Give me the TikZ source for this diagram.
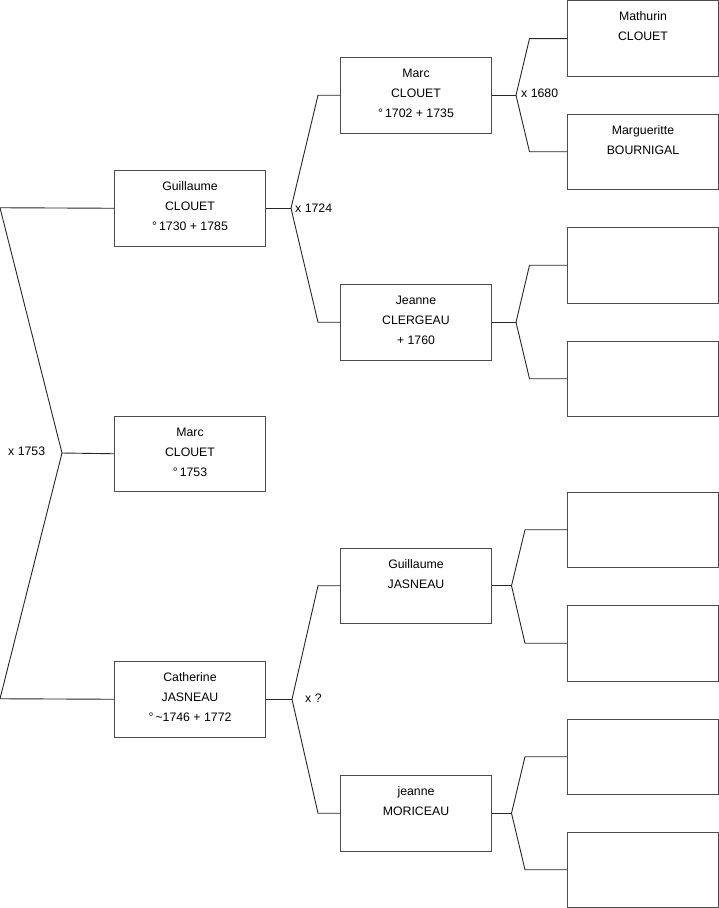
\documentclass[tikz,border=0pt]{standalone}
\usepackage{fontspec}
\setmainfont{Liberation Sans}
\usetikzlibrary{calc}
\tikzset{
  pbox/.style={draw=black!70, line width=1pt, minimum width=151pt, minimum height=75.5pt, inner sep=0pt, anchor=north west},
  ptext/.style={anchor=north, inner sep=0pt, align=center, font=\fontsize{12.3}{20}\selectfont},
  plabel/.style={anchor=west, inner sep=0pt, font=\fontsize{12.3}{20}\selectfont},
  conn/.style={draw=black!85, line width=0.9pt}
}
\newcommand{\st}{\rule{0pt}{10pt}}
\begin{document}
\begin{tikzpicture}[x=1pt,y=-1pt]
\useasboundingbox (0,0) rectangle (719,908);
% generation 1
\node[pbox] (g1) at (114,170) {};
\node[pbox] (m1) at (114,415.5) {};
\node[pbox] (c1) at (114,661) {};
% generation 2
\node[pbox] (g2a) at (340,57) {};
\node[pbox] (g2b) at (340,284) {};
\node[pbox] (g2c) at (340,547.5) {};
\node[pbox] (g2d) at (340,775) {};
% generation 3
\node[pbox] (g3a) at (567,0.3) {};
\node[pbox] (g3b) at (567,113.5) {};
\node[pbox] (g3c) at (567,227) {};
\node[pbox] (g3d) at (567,340.5) {};
\node[pbox] (g3e) at (567,491.5) {};
\node[pbox] (g3f) at (567,605) {};
\node[pbox] (g3g) at (567,718.5) {};
\node[pbox] (g3h) at (567,831.5) {};
% texts
\node[ptext] (t1) at ($(g1.north)+(0,10.5)$) {\st Guillaume\\CLOUET\\°\,1730 + 1785};
\node[ptext] (t2) at ($(m1.north)+(0,10.5)$) {\st Marc\\CLOUET\\°\,1753};
\node[ptext] (t3) at ($(c1.north)+(0,10.5)$) {\st Catherine\\JASNEAU\\°\,\textasciitilde1746 + 1772};
\node[ptext] (t4) at ($(g2a.north)+(0,10.5)$) {\st Marc\\CLOUET\\°\,1702 + 1735};
\node[ptext] (t5) at ($(g2b.north)+(0,10.5)$) {\st Jeanne\\CLERGEAU\\+ 1760};
\node[ptext] (t6) at ($(g2c.north)+(0,10.5)$) {\st Guillaume\\JASNEAU};
\node[ptext] (t7) at ($(g2d.north)+(0,10.5)$) {\st jeanne\\MORICEAU};
\node[ptext] (t8) at ($(g3a.north)+(0,10.2)$) {\st Mathurin\\CLOUET};
\node[ptext] (t9) at ($(g3b.north)+(0,10.5)$) {\st Margueritte\\BOURNIGAL};
% junction coordinates
\coordinate (L1) at (0,207.75);
\coordinate (L2) at (0,698.75);
\coordinate (J0) at (62,453);
\coordinate (J1) at ($(g1.east)+(25,0)$);
\coordinate (J2) at ($(c1.east)+(26,0)$);
\coordinate (J3) at ($(g2a.east)+(24,0)$);
\coordinate (J4) at ($(g2b.east)+(24,0)$);
\coordinate (J5) at ($(g2c.east)+(19.5,0)$);
\coordinate (J6) at ($(g2d.east)+(19.5,0)$);
% connectors
\draw[conn] (g1.west) -- (L1) -- (J0) -- (L2) -- (c1.west);
\draw[conn] (J0) -- (m1.west);
\draw[conn] (g1.east) -- (J1);
\draw[conn] (J1) -- ($(g2a.west)+(-22,0)$) -- (g2a.west);
\draw[conn] (J1) -- ($(g2b.west)+(-22,0)$) -- (g2b.west);
\draw[conn] (c1.east) -- (J2);
\draw[conn] (J2) -- ($(g2c.west)+(-22,0)$) -- (g2c.west);
\draw[conn] (J2) -- ($(g2d.west)+(-22,0)$) -- (g2d.west);
\draw[conn] (g2a.east) -- (J3);
\draw[conn] (J3) -- ($(g3a.west)+(-37.5,0)$) -- (g3a.west);
\draw[conn] (J3) -- ($(g3b.west)+(-37.5,0)$) -- (g3b.west);
\draw[conn] (g2b.east) -- (J4);
\draw[conn] (J4) -- ($(g3c.west)+(-37.5,0)$) -- (g3c.west);
\draw[conn] (J4) -- ($(g3d.west)+(-37.5,0)$) -- (g3d.west);
\draw[conn] (g2c.east) -- (J5);
\draw[conn] (J5) -- ($(g3e.west)+(-42,0)$) -- (g3e.west);
\draw[conn] (J5) -- ($(g3f.west)+(-42,0)$) -- (g3f.west);
\draw[conn] (g2d.east) -- (J6);
\draw[conn] (J6) -- ($(g3g.west)+(-42,0)$) -- (g3g.west);
\draw[conn] (J6) -- ($(g3h.west)+(-42,0)$) -- (g3h.west);
% marriage labels
\node[plabel] (x1) at (8,451) {x 1753};
\node[plabel] (x2) at (295,208) {x 1724};
\node[plabel] (x3) at (521,93) {x 1680};
\node[plabel] (x4) at (305,698) {x ?};
\end{tikzpicture}
\end{document}
